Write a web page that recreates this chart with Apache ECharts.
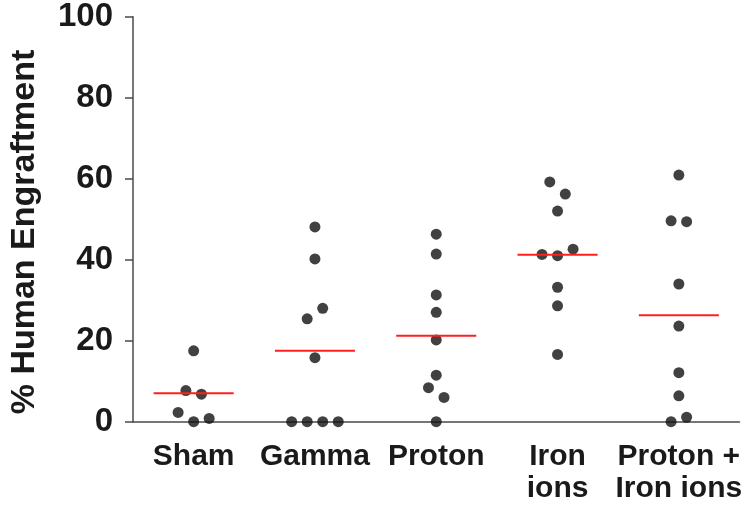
<!DOCTYPE html>
<html>
<head>
<meta charset="utf-8">
<script src="https://cdn.jsdelivr.net/npm/echarts@6/dist/echarts.min.js"></script>
<style>
  html, body { margin: 0; padding: 0; background: #fff; }
  #chart { width: 755px; height: 506px; }
</style>
</head>
<body>
<div id="chart"></div>
<script>
// groups along the x axis
const categories = ['Sham', 'Gamma', 'Proton', 'Iron\nions', 'Proton +\nIron ions']
const yTicks = [0, 20, 40, 60, 80, 100]

// % engraftment per animal
const shamValues = [17.5, 7.7, 6.8, 2.3, 0, 0.8]
const gammaValues = [48.1, 40.2, 28.0, 25.4, 15.8, 0, 0, 0, 0]
const protonValues = [46.3, 41.4, 31.3, 27.0, 20.2, 11.5, 8.4, 6.0, 0]
const ironValues = [59.2, 56.2, 52.0, 42.6, 41.3, 41.0, 33.2, 28.6, 16.6]
const protonIronValues = [60.9, 49.6, 49.4, 34.0, 23.6, 12.1, 6.4, 1.1, 0]

// side-by-side offset of each dot (in dot slots) where dots overlap
const shamJitter = [0, -1, 1, -2, 0, 2]
const gammaJitter = [0, 0, 1, -1, 0, -3, -1, 1, 3]
const protonJitter = [0, 0, 0, 0, 0, 0, -1, 1, 0]
const ironJitter = [-1, 1, 0, 2, -2, 0, 0, 0, 0]
const protonIronJitter = [0, -1, 1, 0, 0, 0, 0, 1, -1]

// group means (red bars)
const means = [7.0, 17.5, 21.2, 41.2, 26.3]

const groups = [
  [shamValues, shamJitter],
  [gammaValues, gammaJitter],
  [protonValues, protonJitter],
  [ironValues, ironJitter],
  [protonIronValues, protonIronJitter]
]

const slot = 0.064
const points = []
groups.forEach(function (g, i) {
  g[0].forEach(function (v, k) {
    points.push([i + g[1][k] * slot, v])
  })
})

const axisColor = '#4a4a4a'
const font = 'Liberation Sans, Arial, sans-serif'

const chart = echarts.init(document.getElementById('chart'))
const option = {
  animation: false,
  grid: { left: 133, right: 15.5, top: 16.7, bottom: 84.3 },
  xAxis: [
    {
      type: 'category',
      data: categories,
      boundaryGap: true,
      axisLine: { lineStyle: { color: axisColor, width: 1.5 } },
      axisTick: { alignWithLabel: true, length: 4, lineStyle: { color: axisColor, width: 1.5 } },
      axisLabel: {
        margin: 19,
        color: '#1a1a1a',
        fontFamily: font,
        fontWeight: 'bold',
        fontSize: 30,
        lineHeight: 32,
        interval: 0
      },
      splitLine: { show: false }
    },
    {
      type: 'value',
      min: -0.5,
      max: 4.5,
      show: false
    }
  ],
  yAxis: {
    type: 'value',
    min: yTicks[0],
    max: yTicks[yTicks.length - 1],
    interval: 20,
    axisLine: { show: true, onZero: false, lineStyle: { color: axisColor, width: 1.5 } },
    axisTick: { show: true, length: 8, lineStyle: { color: axisColor, width: 1.5 } },
    axisLabel: {
      margin: 20,
      color: '#1a1a1a',
      fontFamily: font,
      fontWeight: 'bold',
      fontSize: 33
    },
    splitLine: { show: false }
  },
  graphic: [
    {
      type: 'text',
      rotation: Math.PI / 2,
      x: 25,
      y: 232,
      style: {
        text: '% Human Engraftment',
        fill: '#1a1a1a',
        font: 'bold 34px ' + font,
        align: 'center',
        verticalAlign: 'middle'
      }
    }
  ],
  series: [
    {
      type: 'scatter',
      xAxisIndex: 1,
      data: points,
      symbolSize: 11,
      clip: false,
      itemStyle: { color: '#111111' },
      z: 3
    },
    {
      type: 'custom',
      xAxisIndex: 1,
      data: means.map(function (m, i) { return [i, m] }),
      z: 4,
      renderItem: function (params, api) {
        const x = api.value(0)
        const y = api.value(1)
        const a = api.coord([x - 0.33, y])
        const b = api.coord([x + 0.33, y])
        return {
          type: 'line',
          shape: { x1: a[0], y1: a[1], x2: b[0], y2: b[1] },
          style: { stroke: '#ff1f1f', lineWidth: 2 }
        }
      }
    }
  ]
}
chart.setOption(option)
</script>
</body>
</html>
